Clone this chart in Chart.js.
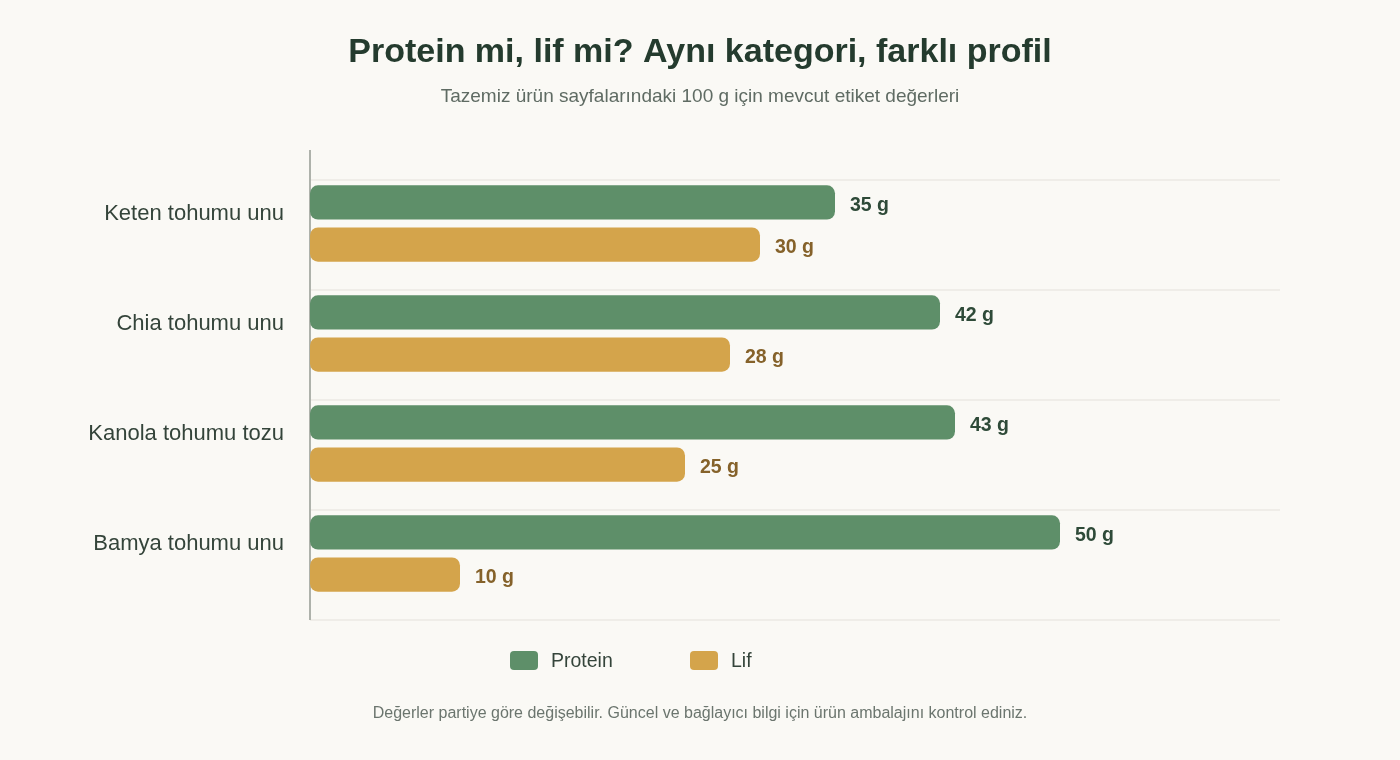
<!DOCTYPE html>
<html lang="tr">
<head>
<meta charset="utf-8">
<script src="https://cdn.jsdelivr.net/npm/chart.js@4.4.1/dist/chart.umd.min.js"></script>
<style>
  html, body { margin: 0; padding: 0; background: #faf9f5; }
  #wrap { position: relative; width: 1400px; height: 760px; font-family: "Liberation Sans", Arial, sans-serif; }
  canvas { position: absolute; left: 0; top: 0; }
  .leg { position: absolute; top: 650px; height: 20px; display: flex; align-items: center; font-size: 19.5px; color: #34443a; }
  .sw { display: inline-block; width: 28px; height: 19px; border-radius: 4px; margin-right: 13px; }
  #foot { position: absolute; left: 0; width: 1400px; top: 704px; text-align: center; font-size: 16px; color: #6b756e; }
</style>
</head>
<body>
<div id="wrap">
  <canvas id="c" width="1400" height="760"></canvas>
  <div id="legend"></div>
  <div id="foot"></div>
</div>
<script>
// ---- data ----
const categories = ['Keten tohumu unu', 'Chia tohumu unu', 'Kanola tohumu tozu', 'Bamya tohumu unu'];
const seriesNames = ['Protein', 'Lif'];
const proteinValues = [35, 42, 43, 50];
const fiberValues = [30, 28, 25, 10];
const valueUnit = ' g';
const titleText = 'Protein mi, lif mi? Aynı kategori, farklı profil';
const subtitleText = 'Tazemiz ürün sayfalarındaki 100 g için mevcut etiket değerleri';
const footText = 'Değerler partiye göre değişebilir. Güncel ve bağlayıcı bilgi için ürün ambalajını kontrol ediniz.';

// ---- styles ----
const FONT = '"Liberation Sans", Arial, sans-serif';
const barColors = ['#5e8f69', '#d4a44b'];
const valueColors = ['#2e4a38', '#85622a'];
const GRID_SHIFT = 11.5;

const decor = {
  id: 'decor',
  beforeDatasetsDraw(chart) {
    const { ctx, chartArea: a, scales: { y } } = chart;
    const band = Math.abs(y.getPixelForValue(1) - y.getPixelForValue(0));
    ctx.save();
    ctx.strokeStyle = '#ebe9e3';
    ctx.lineWidth = 1.5;
    for (let i = 0; i <= categories.length; i++) {
      const yy = a.top + GRID_SHIFT + band * i;
      ctx.beginPath(); ctx.moveTo(a.left, yy); ctx.lineTo(a.right - 5, yy); ctx.stroke();
    }
    ctx.strokeStyle = '#aeb2ab';
    ctx.lineWidth = 2;
    ctx.beginPath(); ctx.moveTo(a.left, a.top - 18.5); ctx.lineTo(a.left, a.bottom + GRID_SHIFT); ctx.stroke();
    ctx.restore();
  },
  afterDatasetsDraw(chart) {
    const { ctx } = chart;
    ctx.save();
    ctx.font = 'bold 19.5px ' + FONT;
    ctx.textAlign = 'left';
    ctx.textBaseline = 'middle';
    chart.data.datasets.forEach((ds, di) => {
      const meta = chart.getDatasetMeta(di);
      ctx.fillStyle = valueColors[di];
      meta.data.forEach((el, i) => {
        ctx.fillText(ds.data[i] + valueUnit, el.x + 15, el.y + 3.5);
      });
    });
    ctx.restore();
  }
};

new Chart(document.getElementById('c'), {
  type: 'bar',
  data: {
    labels: categories,
    datasets: [
      { label: seriesNames[0], data: proteinValues, backgroundColor: barColors[0] },
      { label: seriesNames[1], data: fiberValues, backgroundColor: barColors[1] }
    ]
  },
  options: {
    responsive: false,
    animation: false,
    indexAxis: 'y',
    datasets: {
      bar: { categoryPercentage: 0.764, barPercentage: 0.815, borderRadius: 8, borderSkipped: false }
    },
    layout: { padding: { left: 0, right: 0, top: 0, bottom: 151.5 } },
    plugins: {
      legend: { display: false },
      tooltip: { enabled: false },
      title: {
        display: true, text: titleText, color: '#243b2e',
        font: { family: FONT, size: 34, weight: 'bold' },
        padding: { top: 32, bottom: 0 }
      },
      subtitle: {
        display: true, text: subtitleText, color: '#5f6b63',
        font: { family: FONT, size: 19 },
        padding: { top: 12.8, bottom: 60.1 }
      }
    },
    scales: {
      x: { display: false, min: 0, max: 65 },
      y: {
        grid: { display: false, drawTicks: false },
        border: { display: false },
        ticks: {
          padding: 26, color: '#34443a',
          font: { family: FONT, size: 22, lineHeight: 0.88 },
          callback(v) { return [this.getLabelForValue(v), '']; }
        },
        afterFit(s) { s.width = 310; }
      },
      rightSpace: {
        type: 'category', position: 'right', display: true,
        grid: { display: false, drawTicks: false },
        border: { display: false },
        ticks: { display: false },
        afterFit(s) { s.width = 115; }
      }
    }
  },
  plugins: [decor]
});

// legend + footer (HTML text)
const legendPos = [510, 690];
const lg = document.getElementById('legend');
seriesNames.forEach((n, i) => {
  const d = document.createElement('div');
  d.className = 'leg';
  d.style.left = legendPos[i] + 'px';
  d.innerHTML = '<span class="sw" style="background:' + barColors[i] + '"></span>' + n;
  lg.appendChild(d);
});
document.getElementById('foot').textContent = footText;
</script>
</body>
</html>
